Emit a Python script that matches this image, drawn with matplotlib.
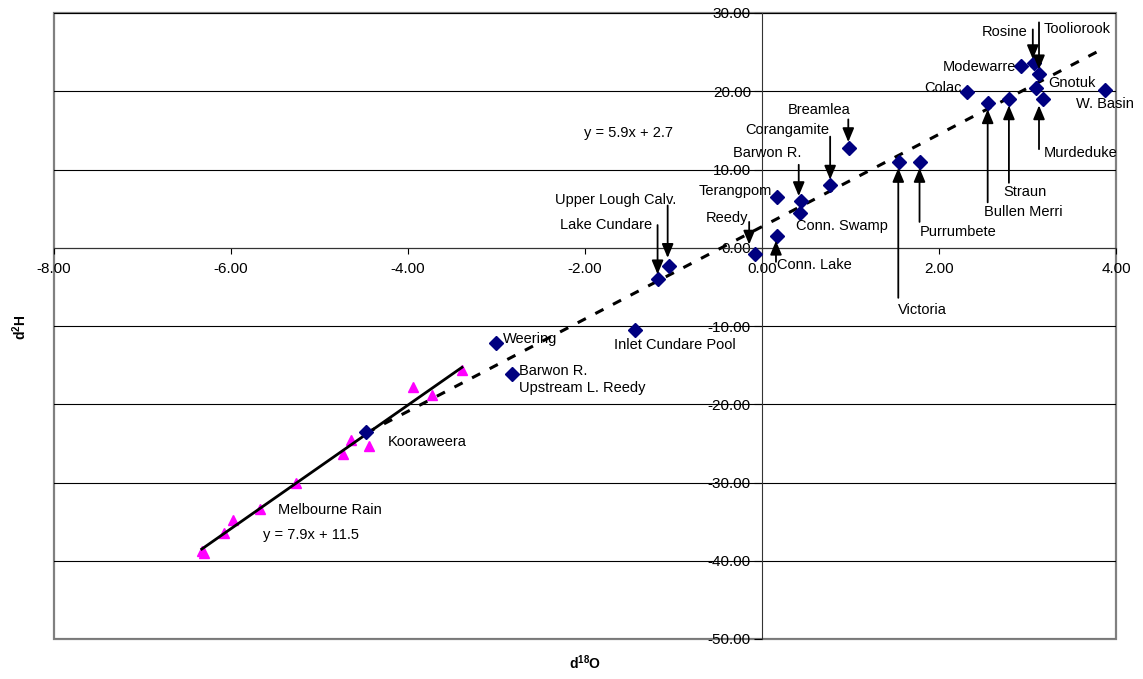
import matplotlib
matplotlib.use("Agg")
import matplotlib.pyplot as plt
from matplotlib.patches import Rectangle
import numpy as np

plt.rcParams['font.family'] = ['Liberation Sans', 'DejaVu Sans']
plt.rcParams['mathtext.fontset'] = 'custom'
plt.rcParams['mathtext.rm'] = 'Liberation Sans'
plt.rcParams['mathtext.bf'] = 'Liberation Sans:bold'

# --- data ---
site_names = [
    'Modewarre', 'Rosine', 'Tooliorook', 'Gnotuk', 'Murdeduke', 'W. Basin',
    'Colac', 'Bullen Merri', 'Straun', 'Victoria', 'Purrumbete', 'Breamlea',
    'Corangamite', 'Barwon R.', 'Conn. Swamp', 'Terangpom', 'Conn. Lake',
    'Reedy', 'Upper Lough Calv.', 'Lake Cundare', 'Inlet Cundare Pool',
    'Weering', 'Barwon R. Upstream L. Reedy', 'Kooraweera',
]
site_d18o = [2.93, 3.07, 3.13, 3.10, 3.17, 3.88, 2.32, 2.55, 2.79, 1.55, 1.78,
             0.98, 0.77, 0.44, 0.43, 0.17, 0.17, -0.08, -1.05, -1.18, -1.43,
             -3.01, -2.82, -4.47]
site_d2h = [23.2, 23.6, 22.2, 20.4, 19.0, 20.2, 19.9, 18.5, 19.0, 10.9, 11.0,
            12.7, 8.0, 6.0, 4.5, 6.5, 1.5, -0.8, -2.3, -4.0, -10.5,
            -12.2, -16.1, -23.5]

rain_d18o = [-3.39, -3.94, -3.73, -4.64, -4.44, -4.73, -5.27, -5.67, -5.98,
             -6.08, -6.33, -6.30]
rain_d2h = [-15.6, -17.8, -18.8, -24.6, -25.3, -26.4, -30.1, -33.4, -34.8,
            -36.5, -38.7, -39.0]

# trendline equations printed on the chart
lake_slope, lake_icept = 5.9, 2.7
rain_slope, rain_icept = 7.9, 11.5

# --- annotation layout: (text, text x, text y, ha, arrow tail, arrow tip) ---
LABELS = [
    ('Rosine', 3.00, 27.6, 'right', (3.06, 27.9), (3.06, 24.1)),
    ('Tooliorook', 3.18, 27.9, 'left', (3.13, 28.8), (3.13, 22.8)),
    ('Modewarre', 2.87, 23.1, 'right', None, None),
    ('Colac', 2.26, 20.4, 'right', None, None),
    ('Gnotuk', 3.24, 21.1, 'left', None, None),
    ('W. Basin', 3.55, 18.4, 'left', None, None),
    ('Murdeduke', 3.18, 12.1, 'left', (3.13, 12.6), (3.13, 18.2)),
    ('Straun', 2.73, 7.1, 'left', (2.79, 8.3), (2.79, 18.2)),
    ('Bullen Merri', 2.51, 4.6, 'left', (2.55, 5.8), (2.55, 17.7)),
    ('Purrumbete', 1.78, 2.0, 'left', (1.78, 3.3), (1.78, 10.2)),
    ('Victoria', 1.54, -7.9, 'left', (1.54, -6.4), (1.54, 10.2)),
    ('Breamlea', 0.65, 17.6, 'center', (0.975, 16.4), (0.975, 13.5)),
    ('Corangamite', 0.29, 15.0, 'center', (0.77, 14.2), (0.77, 8.7)),
    ('Barwon R.', 0.06, 12.1, 'center', (0.415, 10.6), (0.415, 6.6)),
    ('Terangpom', 0.11, 7.2, 'right', None, None),
    ('Reedy', -0.15, 3.8, 'right', (-0.145, 3.3), (-0.145, 0.4)),
    ('Conn. Swamp', 0.38, 2.8, 'left', None, None),
    ('Conn. Lake', 0.17, -2.2, 'left', (0.158, -1.8), (0.158, 0.9)),
    ('Upper Lough Calv.', -0.97, 6.1, 'right', (-1.066, 5.4), (-1.066, -1.3)),
    ('Lake Cundare', -1.24, 2.9, 'right', (-1.18, 2.9), (-1.18, -3.4)),
    ('Inlet Cundare Pool', -1.67, -12.4, 'left', None, None),
    ('Weering', -2.93, -11.7, 'left', None, None),
    ('Barwon R.\nUpstream L. Reedy', -2.75, -16.8, 'left', None, None),
    ('Kooraweera', -4.23, -24.8, 'left', None, None),
    ('Melbourne Rain', -5.47, -33.5, 'left', None, None),
]

fig = plt.figure(figsize=(11.43, 6.79), dpi=100)
ax = fig.add_axes([54 / 1143, 40 / 679, 1062 / 1143, 626 / 679])

ax.set_xlim(-8, 4)
ax.set_ylim(-50, 30)

# horizontal gridlines
for yv in np.arange(-50, 31, 10):
    ax.axhline(yv, color='black', lw=0.8, zorder=1)

# trendlines
lx = np.array([min(site_d18o), max(site_d18o)])
ax.plot(lx, lake_slope * lx + lake_icept, color='black', lw=2.2,
        linestyle=(0, (3, 3.5)), zorder=3)
rx = np.array([min(rain_d18o), max(rain_d18o)])
ax.plot(rx, rain_slope * rx + rain_icept, color='black', lw=2, zorder=3)

ax.plot(rain_d18o, rain_d2h, linestyle='none', marker='^', color='#FF00FF',
        markersize=7.5, zorder=2)
ax.plot(site_d18o, site_d2h, linestyle='none', marker='D', color='#000080',
        markersize=7, zorder=4)

for text, tx, ty, ha, tail, tip in LABELS:
    ax.text(tx, ty, text, ha=ha, va='center', fontsize=10.5, zorder=5,
            linespacing=1.25)
    if tail is not None:
        ax.annotate('', xy=tip, xytext=tail,
                    arrowprops=dict(arrowstyle='-|>,head_length=0.6,head_width=0.25',
                                    color='black', lw=1.3,
                                    mutation_scale=14, shrinkA=0, shrinkB=0),
                    zorder=5)

ax.text(-2.01, 14.7, 'y = 5.9x + 2.7', ha='left', va='center', fontsize=10.5)
ax.text(-5.64, -36.7, 'y = 7.9x + 11.5', ha='left', va='center', fontsize=10.5)

# Excel style axes crossing at zero, grey plot frame
for side in ('top', 'right'):
    ax.spines[side].set_visible(False)
ax.spines['left'].set_position(('data', 0))
ax.spines['bottom'].set_position(('data', 0))
ax.spines['left'].set_color('#333333')
ax.spines['bottom'].set_color('#333333')
ax.add_patch(Rectangle((0, 0), 1, 1, transform=ax.transAxes, fill=False,
                       ec='#808080', lw=1.6, clip_on=False, zorder=0))

ax.set_xticks(np.arange(-8, 4.1, 2))
ax.set_yticks(np.arange(-50, 31, 10))
ax.xaxis.set_major_formatter(matplotlib.ticker.FormatStrFormatter('%.2f'))
ax.yaxis.set_major_formatter(matplotlib.ticker.FormatStrFormatter('%.2f'))
ax.tick_params(axis='x', direction='out', length=4, pad=6, labelsize=11)
ax.tick_params(axis='y', direction='out', length=6, pad=2, labelsize=11)

fig.text(585 / 1143, 1 - 663 / 679, r'd$^{\mathbf{18}}$O', ha='center',
         va='center', fontsize=10, fontweight='bold')
fig.text(20 / 1143, 1 - 327 / 679, r'd$^{\mathbf{2}}$H', ha='center',
         va='center', fontsize=10, fontweight='bold', rotation=90)

fig.savefig('out.png', dpi=100)
